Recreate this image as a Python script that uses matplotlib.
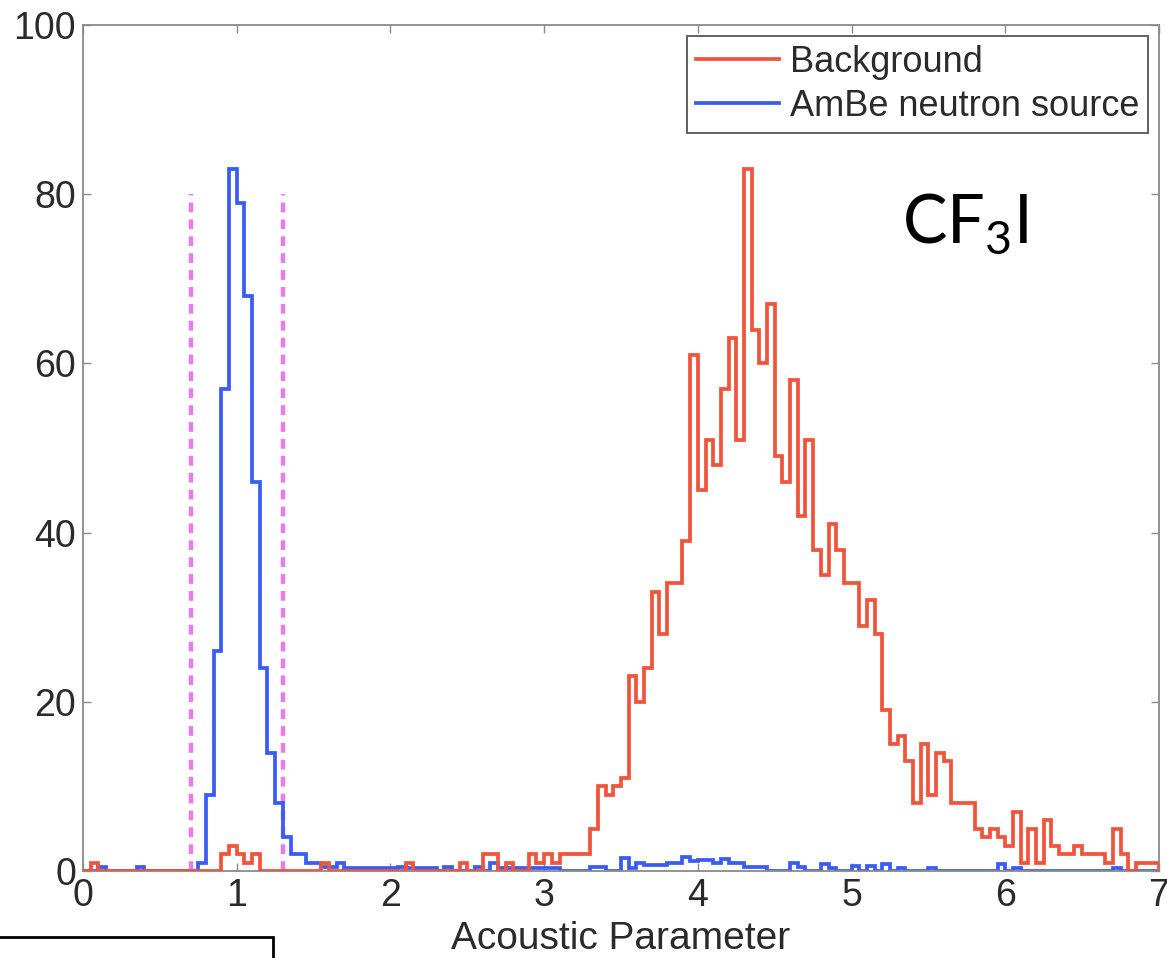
import numpy as np
import matplotlib
matplotlib.use("Agg")
import matplotlib.pyplot as plt
from matplotlib.patches import Rectangle
from matplotlib.lines import Line2D

# ---- data (counts per 0.05-wide bin, 0 .. 7) ----
bin_width = 0.05
x_min, x_max = 0.0, 7.0

background = [
    0, 1, 0, 0, 0, 0, 0, 0, 0, 0,            # 0.00-0.45
    0, 0, 0, 0, 0, 0, 0, 0, 2, 3,            # 0.50-0.95
    2, 1, 2, 0, 0, 0, 0, 0, 0, 0,            # 1.00-1.45
    0, 1, 0, 0, 0, 0, 0, 0, 0, 0,            # 1.50-1.95
    0, 0, 1, 0, 0, 0, 0, 0, 0, 1,            # 2.00-2.45
    0, 0, 2, 2, 0, 1, 0, 0, 2, 1,            # 2.50-2.95
    2, 1, 2, 2, 2, 2, 5, 10, 9, 10,          # 3.00-3.45
    11, 23, 20, 24, 33, 28, 34, 34, 39, 61,  # 3.50-3.95
    45, 51, 48, 57, 63, 51, 83, 64, 60, 67,  # 4.00-4.45
    49, 46, 58, 42, 51, 38, 35, 41, 38, 34,  # 4.50-4.95
    34, 29, 32, 28, 19, 15, 16, 13, 8, 15,   # 5.00-5.45
    9, 14, 13, 8, 8, 8, 5, 4, 5, 4,          # 5.50-5.95
    3, 7, 1, 5, 1, 6, 3, 2, 2, 3,            # 6.00-6.45
    2, 2, 2, 1, 5, 2, 0, 1, 1, 1,            # 6.50-6.95
]

ambe = [
    0, 0, 0.5, 0, 0, 0, 0, 0.5, 0, 0,            # 0.00-0.45
    0, 0, 0, 0, 0, 1, 9, 26, 57, 83,             # 0.50-0.95
    79, 68, 46, 24, 14, 8, 4, 2, 2, 1,           # 1.00-1.45
    1, 0.5, 0.5, 1, 0.4, 0.3, 0.3, 0.3, 0.3, 0.3,  # 1.50-1.95
    0.4, 0.5, 0.4, 0.4, 0.4, 0.4, 0, 0.5, 0, 0,  # 2.00-2.45
    0, 0.5, 0, 1, 0.4, 0.4, 0.4, 0.4, 0.4, 0.4,  # 2.50-2.95
    0.4, 0.4, 0, 0, 0, 0, 0.5, 0.5, 0, 0,        # 3.00-3.45
    1.5, 0.4, 1, 0.7, 0.7, 0.7, 1, 1, 1.7, 1.2,  # 3.50-3.95
    1.3, 1.3, 1, 1.4, 0.9, 0.9, 0.5, 0.5, 0.5, 0,  # 4.00-4.45
    0, 0, 1, 0.5, 0, 0, 0.8, 0.4, 0, 0,          # 4.50-4.95
    0.6, 0, 0.6, 0, 0.8, 0, 0.4, 0, 0, 0,        # 5.00-5.45
    0.4, 0, 0, 0, 0, 0, 0, 0, 0, 0.8,            # 5.50-5.95
    0, 0.4, 0, 0, 0, 0, 0, 0, 0, 0,              # 6.00-6.45
    0, 0, 0, 0, 0.4, 0, 0, 0, 0, 0,              # 6.50-6.95
]

cut_lines = [0.7, 1.3]
cut_top = 80

series_labels = ["Background", "AmBe neutron source"]
x_label = "Acoustic Parameter"
x_ticks = [0, 1, 2, 3, 4, 5, 6, 7]
y_ticks = [0, 20, 40, 60, 80, 100]
annotation = "CF$_\\mathregular{3}$I"

# ---- styling ----
red = "#F0543A"
blue = "#3A5CF2"
magenta = "#E77BEF"
text_color = "#2a2a2a"
frame_color = "#8a8a8a"
lw = 2.7

plt.rcParams["font.family"] = ["Liberation Sans", "DejaVu Sans"]

W, H = 1167, 958
fig = plt.figure(figsize=(W / 100, H / 100), dpi=100)
ax = fig.add_axes([83 / W, 1 - 871 / H, (1159 - 83) / W, (871 - 25) / H])

edges = np.linspace(x_min, x_max, len(background) + 1)

for xc in cut_lines:
    ax.plot([xc, xc], [0, cut_top], color=magenta, lw=3.2,
            linestyle=(0, (2.2, 1.6)), zorder=1)

ax.stairs(ambe, edges, baseline=0, color=blue, lw=lw, zorder=2,
          label=series_labels[1])
ax.stairs(background, edges, baseline=0, color=red, lw=lw, zorder=3,
          label=series_labels[0])

ax.set_xlim(x_min, x_max)
ax.set_ylim(0, 100)
ax.set_xticks(x_ticks)
ax.set_yticks(y_ticks)
ax.tick_params(direction="in", length=6, width=1, color=frame_color,
               top=True, right=True, labelsize=27, labelcolor=text_color, pad=5)
for s in ax.spines.values():
    s.set_color(frame_color)
    s.set_linewidth(1.3)

ax.set_xlabel(x_label, fontsize=28, color=text_color, labelpad=5)

leg_handles = [Line2D([], [], color=red, lw=lw), Line2D([], [], color=blue, lw=lw)]
leg = ax.legend(leg_handles, series_labels, loc="upper right", fontsize=26,
                frameon=True, fancybox=False, edgecolor="#555555",
                handlelength=2.3, handletextpad=0.3, borderpad=0.25,
                labelspacing=0.25, borderaxespad=0.3, framealpha=1)
leg.get_frame().set_linewidth(1.3)
for t in leg.get_texts():
    t.set_color(text_color)

ax.text(5.33, 76.5, annotation, fontsize=48, color="black",
        family=["Lato", "DejaVu Sans"], ha="left", va="center")

# stray white box with black border at the bottom-left corner
fig.patches.append(Rectangle((-0.01, -0.05), (273 / W) + 0.01, 0.05 + (958 - 937) / H,
                             transform=fig.transFigure, facecolor="white",
                             edgecolor="black", lw=2, zorder=10))

fig.savefig("out.png", dpi=100)
